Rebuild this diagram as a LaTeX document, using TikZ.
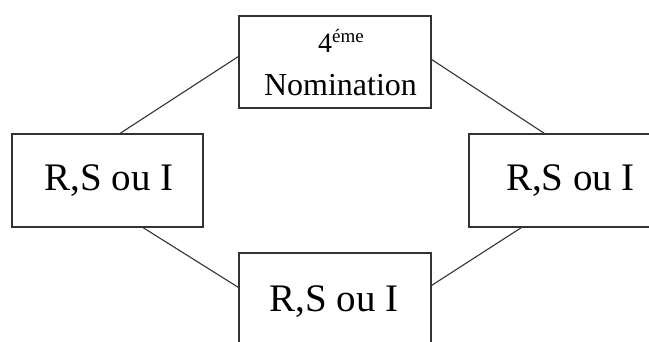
\documentclass[tikz,border=0pt]{standalone}
\usepackage{fontspec}
\setmainfont{Liberation Serif}
\begin{document}
\begin{tikzpicture}[x=1pt,y=-1pt]
  \tikzset{
    box/.style={draw=black!80, line width=1.1pt, fill=white, inner sep=0pt},
    link/.style={draw=black!80, line width=1.1pt},
    big/.style={font=\fontsize{39}{44}\selectfont},
  }
  \useasboundingbox (0,0) rectangle (649,341);
  \clip (0,0) rectangle (649,341);
  % four boxes
  \node[box, minimum width=192pt, minimum height=92pt] (T) at (335,62) {};
  \node[box, minimum width=191pt, minimum height=93pt] (L) at (107.5,180.5) {};
  \node[box, minimum width=200pt, minimum height=93pt] (R) at (569,180.5) {};
  \node[box, minimum width=192pt, minimum height=97pt] (B) at (335,301.5) {};
  % labels
  \node[anchor=base, inner sep=0pt, font=\fontsize{28}{30}\selectfont] (T1) at (341,52)
    {4\raisebox{10pt}{\fontsize{19}{20}\selectfont éme}};
  \node[anchor=base, inner sep=0pt, font=\fontsize{32}{34}\selectfont] (T2) at (340.5,95) {Nomination};
  \node[anchor=base, inner sep=0pt, big] (L1) at (109,190) {R,S ou I};
  \node[anchor=base, inner sep=0pt, big] (R1) at (570.5,190) {R,S ou I};
  \node[anchor=base, inner sep=0pt, big] (B1) at (334,311) {R,S ou I};
  % connectors
  \draw[link] ([xshift=108.5pt]L.north west) -- ([yshift=-41pt]T.north west);
  \draw[link] ([yshift=-44pt]T.north east) -- ([xshift=76pt]R.north west);
  \draw[link] ([xshift=131.5pt]L.south west) -- ([yshift=-35pt]B.north west);
  \draw[link] ([xshift=53pt]R.south west) -- ([yshift=-33pt]B.north east);
\end{tikzpicture}
\end{document}
